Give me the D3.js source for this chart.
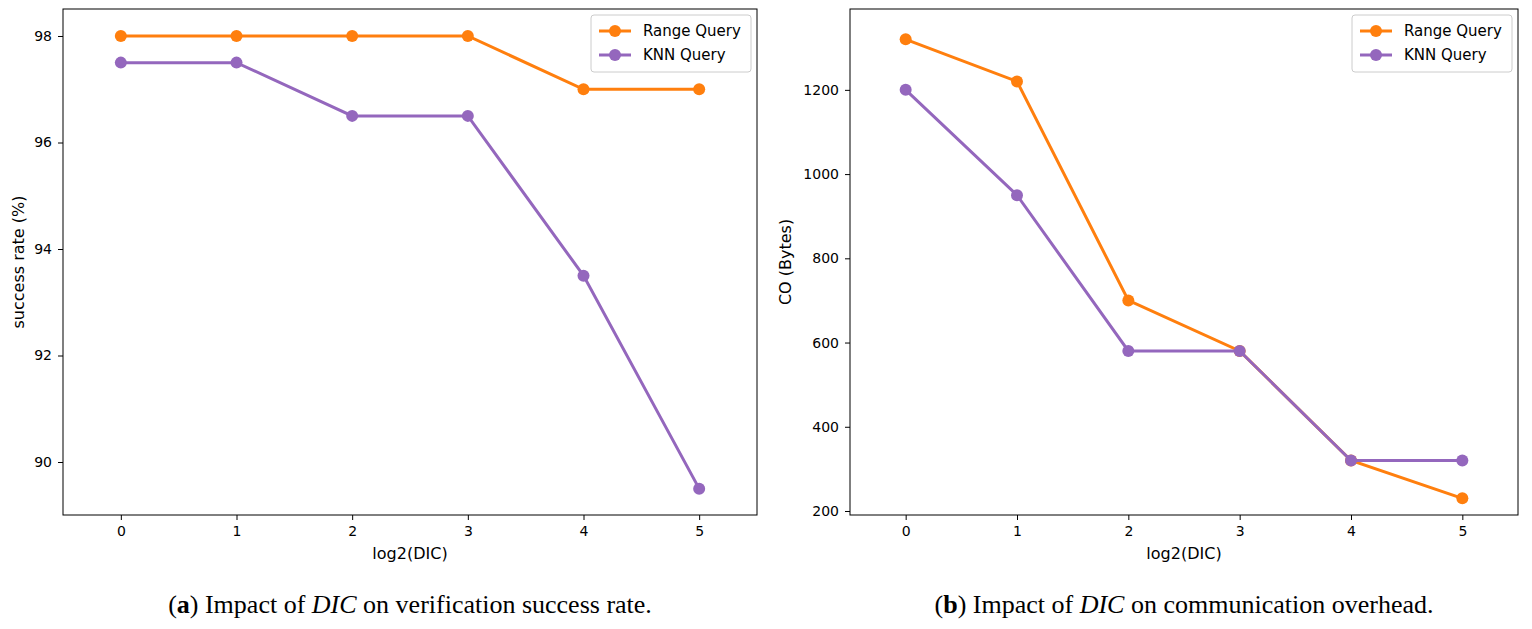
<!DOCTYPE html>
<html><head><meta charset="utf-8">
<script src="https://cdn.jsdelivr.net/npm/d3@7"></script>
<style>body{margin:0;background:#fff}text{font-family:"DejaVu Sans",sans-serif}</style>
</head><body><svg id="c" width="1532" height="629"></svg>
<script>
var xs = [0, 1, 2, 3, 4, 5];
var rateRange = [98, 98, 98, 98, 97, 97];
var rateKnn = [97.5, 97.5, 96.5, 96.5, 93.5, 89.5];
var coRange = [1320, 1220, 700, 580, 320, 230];
var coKnn = [1200, 950, 580, 580, 320, 320];
var rateTicks = [90, 92, 94, 96, 98];
var coTicks = [200, 400, 600, 800, 1000, 1200];
var orange = "#ff7f0e", purple = "#9467bd";

var svg = d3.select("#c");

function panel(o) {
	var g = svg.append("g");
	var x = d3.scaleLinear().domain([-0.5, 5.5]).range([o.left, o.right]);
	var y = d3.scaleLinear().domain(o.ydom).range([515, 9]);
	g.append("g").attr("transform", "translate(0,515)")
		.call(d3.axisBottom(x).tickValues(xs).tickSize(5).tickPadding(6).tickFormat(d3.format("d")));
	g.append("g").attr("transform", "translate(" + o.left + ",0)")
		.call(d3.axisLeft(y).tickValues(o.ticks).tickSize(5).tickPadding(6).tickFormat(d3.format("d")));
	g.selectAll(".tick text").style("font-size", "14px").attr("fill", "#000");
	g.selectAll(".domain").remove();
	g.append("rect").attr("x", o.left).attr("y", 9).attr("width", o.right - o.left).attr("height", 506)
		.attr("fill", "none").attr("stroke", "#000").attr("stroke-width", 1);
	var line = d3.line().x(function(d, i) { return x(xs[i]); }).y(function(d) { return y(d); });
	[[o.a, orange], [o.b, purple]].forEach(function(s) {
		g.append("path").datum(s[0]).attr("d", line).attr("fill", "none").attr("stroke", s[1]).attr("stroke-width", 3);
		g.selectAll(null).data(s[0]).enter().append("circle")
			.attr("cx", function(d, i) { return x(xs[i]); }).attr("cy", function(d) { return y(d); })
			.attr("r", 6).attr("fill", s[1]);
	});
	g.append("text").attr("x", (o.left + o.right) / 2).attr("y", 559).attr("text-anchor", "middle")
		.style("font-size", "16px").text("log2(DIC)");
	g.append("text").attr("transform", "translate(" + o.ylx + ",262) rotate(-90)").attr("text-anchor", "middle")
		.style("font-size", "16px").text(o.ylabel);
	// legend
	var lx = o.right - 166, ly = 15;
	g.append("rect").attr("x", lx).attr("y", ly).attr("width", 160).attr("height", 57).attr("rx", 3)
		.attr("fill", "#fff").attr("stroke", "#ccc");
	[["Range Query", orange], ["KNN Query", purple]].forEach(function(e, i) {
		var yy = ly + 16 + i * 24;
		g.append("line").attr("x1", lx + 8).attr("x2", lx + 40).attr("y1", yy).attr("y2", yy)
			.attr("stroke", e[1]).attr("stroke-width", 3);
		g.append("circle").attr("cx", lx + 24).attr("cy", yy).attr("r", 6).attr("fill", e[1]);
		g.append("text").attr("x", lx + 52).attr("y", yy + 5).style("font-size", "15px").text(e[0]);
	});
	var cap = g.append("text").attr("x", (o.left + o.right) / 2).attr("y", 613).attr("text-anchor", "middle")
		.style("font-family", "Liberation Serif, serif").style("font-size", "26px");
	cap.append("tspan").text("(");
	cap.append("tspan").attr("font-weight", "bold").text(o.letter);
	cap.append("tspan").text(") Impact of ");
	cap.append("tspan").attr("font-style", "italic").text("DIC");
	cap.append("tspan").text(o.caption);
}

panel({left: 63, right: 757, ydom: [89.005, 98.507], ticks: rateTicks, a: rateRange, b: rateKnn,
	ylabel: "success rate (%)", ylx: 24, letter: "a", caption: " on verification success rate."});
panel({left: 850, right: 1518, ydom: [190.5, 1392], ticks: coTicks, a: coRange, b: coKnn,
	ylabel: "CO (Bytes)", ylx: 791, letter: "b", caption: " on communication overhead."});
</script></body></html>
